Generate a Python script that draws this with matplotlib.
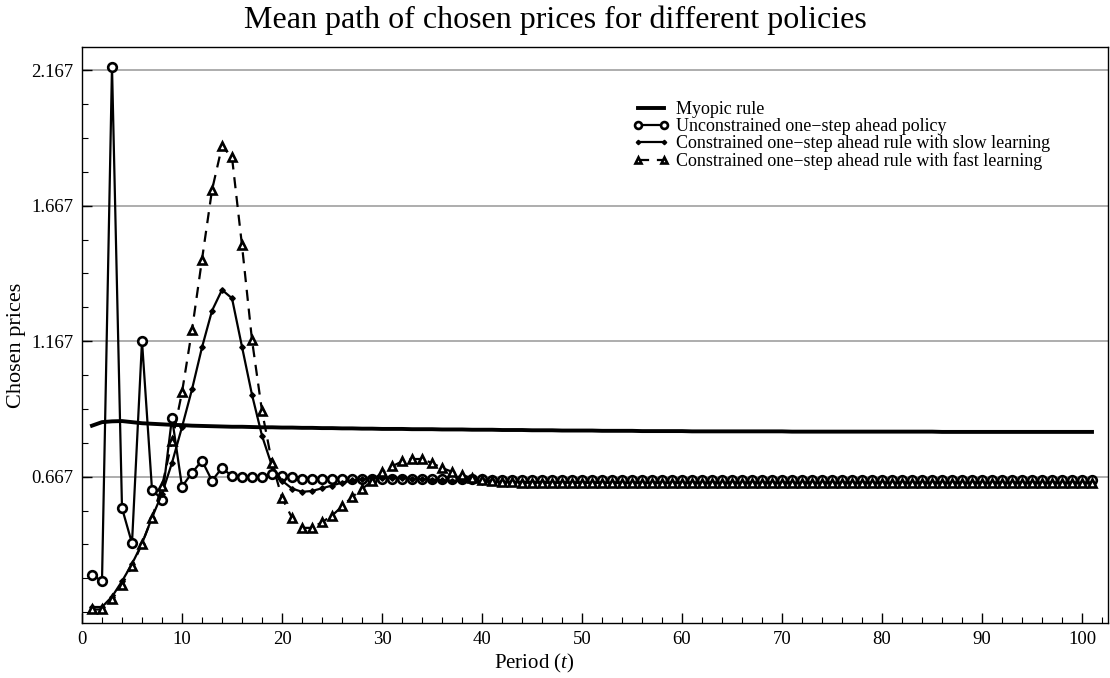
import matplotlib
matplotlib.use('Agg')
import matplotlib.pyplot as plt
from matplotlib.ticker import FixedLocator, MultipleLocator

plt.rcParams['font.family'] = ['Liberation Serif', 'DejaVu Serif']
plt.rcParams['mathtext.fontset'] = 'custom'
plt.rcParams['mathtext.rm'] = 'Liberation Serif'
plt.rcParams['mathtext.it'] = 'Liberation Serif:italic'

periods = list(range(1, 102))

myopic = [
    0.855, 0.868, 0.871, 0.872, 0.868, 0.864, 0.862, 0.860, 0.858, 0.857,
    0.855, 0.854, 0.853, 0.852, 0.851, 0.851, 0.850, 0.849, 0.849, 0.848,
    0.848, 0.847, 0.847, 0.846, 0.846, 0.845, 0.845, 0.844, 0.844, 0.843,
    0.843, 0.843, 0.842, 0.842, 0.842, 0.841, 0.841, 0.841, 0.840, 0.840,
    0.840, 0.839, 0.839, 0.839, 0.838, 0.838, 0.838, 0.837, 0.837, 0.837,
    0.837, 0.836, 0.836, 0.836, 0.836, 0.835, 0.835, 0.835, 0.835, 0.835,
    0.834, 0.834, 0.834, 0.834, 0.834, 0.834, 0.834, 0.834, 0.834, 0.834,
    0.833, 0.833, 0.833, 0.833, 0.833, 0.833, 0.833, 0.833, 0.833, 0.833,
    0.833, 0.833, 0.833, 0.833, 0.833, 0.832, 0.832, 0.832, 0.832, 0.832,
    0.832, 0.832, 0.832, 0.832, 0.832, 0.832, 0.832, 0.832, 0.832, 0.832,
    0.832,
]

unconstrained = [
    0.305, 0.281, 2.180, 0.551, 0.421, 1.167, 0.619, 0.582, 0.884, 0.630,
    0.681, 0.726, 0.652, 0.699, 0.669, 0.667, 0.667, 0.665, 0.675, 0.669,
    0.664, 0.660, 0.658, 0.659, 0.659, 0.659, 0.659, 0.658, 0.658, 0.658,
    0.658, 0.658, 0.658, 0.658, 0.657, 0.657, 0.657, 0.657, 0.657, 0.657,
    0.656, 0.656, 0.656, 0.656, 0.656, 0.656, 0.656, 0.656, 0.656, 0.656,
    0.656, 0.656, 0.656, 0.656, 0.656, 0.656, 0.656, 0.656, 0.656, 0.656,
    0.655, 0.655, 0.655, 0.655, 0.655, 0.655, 0.655, 0.655, 0.655, 0.655,
    0.655, 0.655, 0.655, 0.655, 0.655, 0.655, 0.655, 0.655, 0.655, 0.655,
    0.654, 0.654, 0.654, 0.654, 0.654, 0.654, 0.654, 0.654, 0.654, 0.654,
    0.654, 0.654, 0.654, 0.654, 0.654, 0.654, 0.654, 0.654, 0.654, 0.654,
    0.654,
]

slow_learning = [
    0.186, 0.186, 0.224, 0.281, 0.345, 0.420, 0.516, 0.604, 0.718, 0.850,
    0.989, 1.144, 1.279, 1.356, 1.325, 1.146, 0.969, 0.818, 0.706, 0.652,
    0.623, 0.611, 0.614, 0.624, 0.634, 0.645, 0.653, 0.658, 0.661, 0.662,
    0.662, 0.661, 0.660, 0.658, 0.656, 0.654, 0.652, 0.651, 0.650, 0.649,
    0.648, 0.648, 0.647, 0.647, 0.646, 0.646, 0.645, 0.645, 0.645, 0.644,
    0.644, 0.644, 0.644, 0.643, 0.643, 0.643, 0.643, 0.643, 0.643, 0.643,
    0.642, 0.642, 0.642, 0.642, 0.642, 0.642, 0.642, 0.642, 0.642, 0.642,
    0.642, 0.642, 0.642, 0.642, 0.642, 0.642, 0.642, 0.642, 0.642, 0.642,
    0.642, 0.642, 0.642, 0.642, 0.642, 0.642, 0.642, 0.642, 0.642, 0.642,
    0.642, 0.642, 0.642, 0.642, 0.642, 0.642, 0.642, 0.642, 0.642, 0.642,
    0.642,
]

fast_learning = [
    0.177, 0.177, 0.214, 0.269, 0.336, 0.420, 0.515, 0.632, 0.797, 0.978,
    1.208, 1.468, 1.724, 1.886, 1.845, 1.520, 1.171, 0.909, 0.718, 0.589,
    0.515, 0.478, 0.478, 0.499, 0.523, 0.557, 0.591, 0.622, 0.650, 0.683,
    0.705, 0.723, 0.732, 0.732, 0.717, 0.699, 0.685, 0.672, 0.662, 0.655,
    0.650, 0.647, 0.646, 0.645, 0.645, 0.645, 0.645, 0.645, 0.645, 0.645,
    0.645, 0.645, 0.645, 0.645, 0.645, 0.645, 0.645, 0.645, 0.645, 0.645,
    0.645, 0.645, 0.645, 0.645, 0.645, 0.645, 0.645, 0.645, 0.645, 0.645,
    0.645, 0.645, 0.645, 0.645, 0.645, 0.645, 0.645, 0.645, 0.645, 0.645,
    0.645, 0.645, 0.645, 0.645, 0.645, 0.645, 0.645, 0.645, 0.645, 0.645,
    0.645, 0.645, 0.645, 0.645, 0.645, 0.645, 0.645, 0.645, 0.645, 0.645,
    0.645,
]

series_labels = [
    'Myopic rule',
    'Unconstrained one\u2212step ahead policy',
    'Constrained one\u2212step ahead rule with slow learning',
    'Constrained one\u2212step ahead rule with fast learning',
]

y_tick_values = [0.667, 1.167, 1.667, 2.167]
y_tick_labels = ['0.667', '1.167', '1.667', '2.167']
x_tick_values = [0, 10, 20, 30, 40, 50, 60, 70, 80, 90, 100]

fig = plt.figure(figsize=(11.1, 6.78), dpi=100)
ax = fig.add_axes([82 / 1110, 1 - 623 / 678, (1108 - 82) / 1110, (623 - 47) / 678])

ax.plot(periods, myopic, color='black', lw=2.8, label=series_labels[0], zorder=3)
ax.plot(periods, unconstrained, color='black', lw=1.6, marker='o', ms=6.2,
        mfc='white', mec='black', mew=1.9, label=series_labels[1], zorder=4)
ax.plot(periods, slow_learning, color='black', lw=1.6, marker='D', ms=2.8,
        mfc='black', mec='black', label=series_labels[2], zorder=5)
ax.plot(periods, fast_learning, color='black', lw=1.6, ls=(0, (5, 3.5)), marker='^', ms=6.2,
        mfc='white', mec='black', mew=1.9, label=series_labels[3], zorder=6)

ax.set_xlim(0, 102.6)
ax.set_ylim(0.127, 2.252)
ax.xaxis.set_major_locator(FixedLocator(x_tick_values))
ax.xaxis.set_minor_locator(MultipleLocator(2))
ax.yaxis.set_major_locator(FixedLocator(y_tick_values))
ax.set_yticklabels(y_tick_labels)
ax.yaxis.set_minor_locator(MultipleLocator(0.125, offset=0.04167))

ax.tick_params(axis='both', which='major', direction='in', length=7, width=1,
               labelsize=13.5, top=False, right=False)
ax.tick_params(axis='both', which='minor', direction='in', length=4, width=0.8,
               top=False, right=False)
ax.tick_params(axis='y', which='major', pad=6)
ax.tick_params(axis='x', which='major', pad=6)

ax.yaxis.grid(True, which='major', color='#a0a0a0', lw=1.2)
ax.set_axisbelow(True)
for sp in ax.spines.values():
    sp.set_linewidth(1.0)
    sp.set_color('black')

fig.text(0.5, 1 - 20 / 678, 'Mean path of chosen prices for different policies',
         ha='center', va='center', fontsize=23)
fig.text(534 / 1110, 1 - 663 / 678, 'Period ($t$)', ha='center', va='center', fontsize=15)
fig.text(17 / 1110, 1 - 345 / 678, 'Chosen prices', ha='center', va='center',
         rotation=90, fontsize=16)

leg = ax.legend(loc='upper left', bbox_to_anchor=(633 / 1110, 1 - 101 / 678),
                bbox_transform=fig.transFigure, frameon=False, fontsize=13,
                handlelength=2.0, handletextpad=0.4, labelspacing=0.0,
                borderpad=0, borderaxespad=0, numpoints=2, markerscale=0.8)

fig.savefig('out.png', dpi=100)
